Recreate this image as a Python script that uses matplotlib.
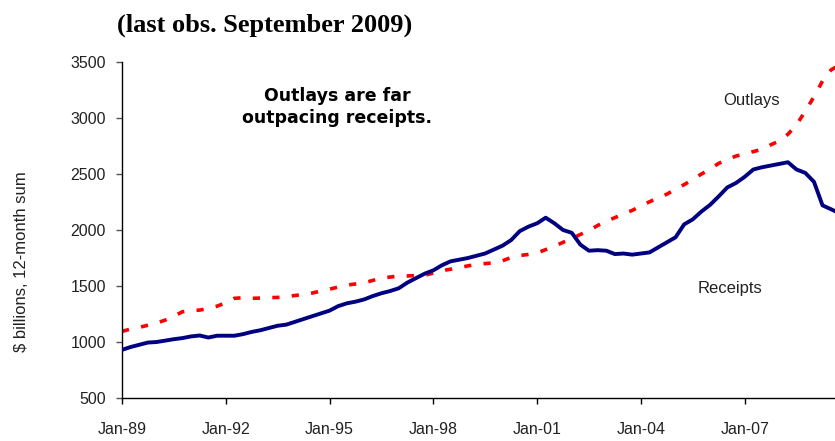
import matplotlib
matplotlib.use("Agg")
import matplotlib.pyplot as plt
import pandas as pd

# quarterly readings (Jan/Apr/Jul/Oct), last point Sep-09, $ billions
dates = list(pd.date_range("1989-01-01", "2009-07-01", freq="QS")) + [pd.Timestamp("2009-09-01")]

receipts = [
    930, 955, 975, 995,      # 1989
    1000, 1012, 1025, 1035,  # 1990
    1050, 1058, 1040, 1056,  # 1991
    1056, 1056, 1070, 1090,  # 1992
    1105, 1125, 1145, 1155,  # 1993
    1180, 1205, 1230, 1255,  # 1994
    1280, 1320, 1345, 1360,  # 1995
    1380, 1410, 1435, 1455,  # 1996
    1480, 1530, 1570, 1610,  # 1997
    1640, 1685, 1720, 1735,  # 1998
    1750, 1770, 1790, 1825,  # 1999
    1860, 1910, 1990, 2030,  # 2000
    2060, 2110, 2060, 2000,  # 2001
    1975, 1870, 1815, 1820,  # 2002
    1815, 1785, 1790, 1780,  # 2003
    1790, 1800, 1845, 1890,  # 2004
    1935, 2050, 2095, 2165,  # 2005
    2225, 2300, 2380, 2420,  # 2006
    2475, 2540, 2560, 2575,  # 2007
    2590, 2605, 2540, 2510,  # 2008
    2430, 2220, 2185, 2160,  # 2009
]

outlays = [
    1095, 1115, 1130, 1150,
    1170, 1195, 1230, 1270,
    1280, 1285, 1300, 1320,
    1350, 1390, 1395, 1390,
    1392, 1396, 1398, 1405,
    1415, 1425, 1437, 1455,
    1472, 1490, 1508, 1518,
    1528, 1550, 1568, 1580,
    1590, 1590, 1593, 1597,
    1615, 1637, 1650, 1663,
    1680, 1692, 1700, 1707,
    1725, 1755, 1772, 1782,
    1795, 1825, 1855, 1890,
    1923, 1960, 1995, 2040,
    2080, 2110, 2145, 2175,
    2215, 2252, 2287, 2320,
    2365, 2405, 2450, 2500,
    2545, 2595, 2630, 2660,
    2680, 2700, 2720, 2760,
    2795, 2855, 2940, 3060,
    3190, 3330, 3430, 3460,
]

tick_years = [1989, 1992, 1995, 1998, 2001, 2004, 2007]
tick_labels = ["Jan-89", "Jan-92", "Jan-95", "Jan-98", "Jan-01", "Jan-04", "Jan-07"]

sans = ["Liberation Sans", "DejaVu Sans"]

fig = plt.figure(figsize=(8.35, 4.41), dpi=100)
ax = fig.add_axes([122 / 835, 43 / 441, 715 / 835, 336 / 441])

ax.plot(dates, outlays, color="#ff0000", lw=2.6, linestyle=(0, (2, 3.4)), zorder=2)
ax.plot(dates, receipts, color="#000080", lw=2.8, zorder=3)

ax.set_xlim(pd.Timestamp("1989-01-01"), pd.Timestamp("2009-09-01"))
ax.set_ylim(500, 3500)
ax.set_yticks(range(500, 3501, 500))
ax.set_xticks([pd.Timestamp(f"{y}-01-01") for y in tick_years])
ax.set_xticklabels(tick_labels)

for s in ["top", "right"]:
    ax.spines[s].set_visible(False)
for s in ["left", "bottom"]:
    ax.spines[s].set_linewidth(1.0)
ax.tick_params(axis="y", length=4.5, width=1, pad=7, color="#555555", labelcolor="#222222")
ax.tick_params(axis="x", length=4.5, width=1, pad=13, labelcolor="#222222")
for lab in ax.get_xticklabels() + ax.get_yticklabels():
    lab.set_family(sans)
    lab.set_fontsize(11.5)

fig.text(22 / 835, 1 - 262 / 441, "$ billions, 12-month sum", rotation=90,
         ha="center", va="center", fontsize=12, family=sans, color="#222222")

fig.text(117 / 835, 1 - 25 / 441, "(last obs. September 2009)", ha="left", va="center",
         fontsize=19, fontweight="bold", family=["Liberation Serif", "DejaVu Serif"])

fig.text(337 / 835, 1 - 107 / 441, "Outlays are far\noutpacing receipts.", ha="center",
         va="center", fontsize=12.5, fontweight="bold", linespacing=1.25,
         family=["DejaVu Sans"])

fig.text(752 / 835, 1 - 100 / 441, "Outlays", ha="center", va="center", fontsize=12,
         family=sans, color="#222222")
fig.text(730 / 835, 1 - 289 / 441, "Receipts", ha="center", va="center", fontsize=12,
         family=sans, color="#222222")

fig.savefig("out.png", dpi=100)
